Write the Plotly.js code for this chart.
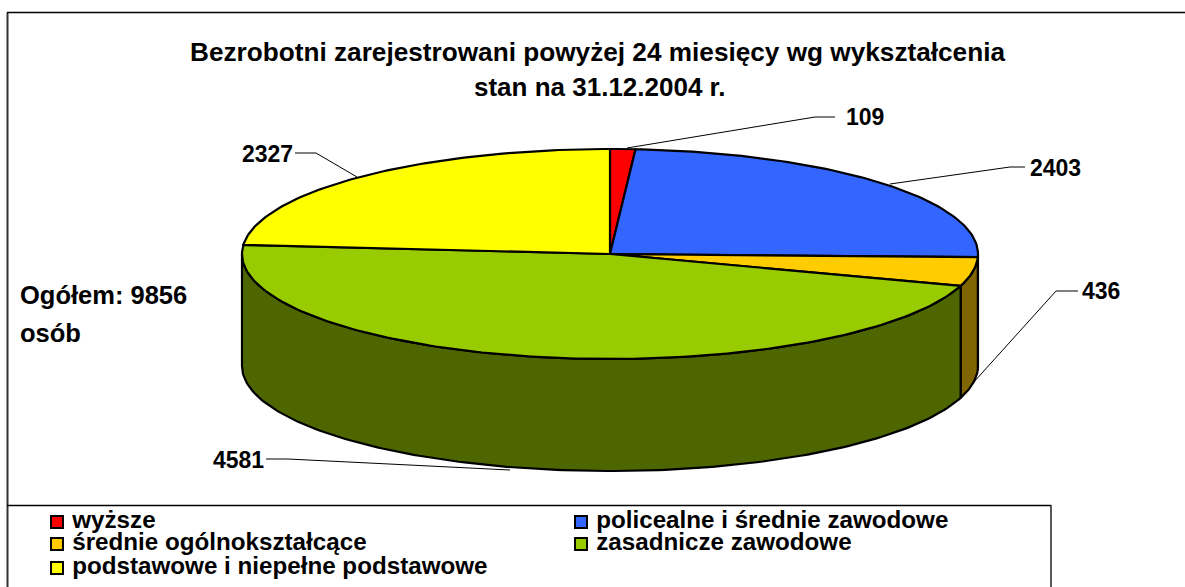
<!DOCTYPE html>
<html>
<head>
<meta charset="utf-8">
<script src="https://cdn.plot.ly/plotly-3.0.1.min.js"></script>
<style>html,body{margin:0;padding:0;background:#fff;overflow:hidden}</style>
</head>
<body>
<div id="chart" style="width:1185px;height:587px"></div>
<script>
const categories = ['wyższe','policealne i średnie zawodowe','średnie ogólnokształcące','zasadnicze zawodowe','podstawowe i niepełne podstawowe'];
const values = [109,2403,436,4581,2327];
const topColors = ['#ff0000','#3366ff','#ffcc00','#99cc00','#ffff00'];
const sideColors = ['#800000','#1a3380','#806600','#4d6600','#808000'];
const titleLine1 = 'Bezrobotni zarejestrowani powyżej 24 miesięcy wg wykształcenia';
const titleLine2 = 'stan na 31.12.2004 r.';
const noteLines = ['Ogółem: 9856','osób'];

// pie geometry (pixels of the 1185x587 page)
const cx = 610, cy = 254, rx = 368, ry = 105, depth = 112;
const total = values.reduce((a,b)=>a+b,0);
const FONT = '"Liberation Sans", Arial, sans-serif';

function pt(deg, dy){ const r = deg*Math.PI/180; return [cx+rx*Math.sin(r), cy-ry*Math.cos(r)+(dy||0)]; }
function arc(a,b,dy){ const out=[]; const n=Math.max(2,Math.ceil(Math.abs(b-a))); for(let i=0;i<=n;i++) out.push(pt(a+(b-a)*i/n,dy)); return out; }
function poly(name,points,color){
  return {type:'scatter',mode:'lines',name:name,x:points.map(p=>p[0]),y:points.map(p=>p[1]),fill:'toself',fillcolor:color,
    line:{color:'#000',width:2.2,shape:'linear'},hoverinfo:'name',showlegend:false};
}

const traces = [];
const starts = []; let acc = 0;
values.forEach(v=>{ starts.push(acc/total*360); acc+=v; });
// visible walls of the cylinder: front half only
values.forEach((v,i)=>{
  const a=Math.max(starts[i],90), b=Math.min(starts[i]+v/total*360,270);
  if(b>a) traces.push(poly(categories[i],arc(a,b,0).concat(arc(b,a,depth)).concat([pt(a,0)]),sideColors[i]));
});
// top faces
values.forEach((v,i)=>{
  const a=starts[i], b=a+v/total*360;
  traces.push(poly(categories[i],[[cx,cy]].concat(arc(a,b,0)).concat([[cx,cy]]),topColors[i]));
});

// leader lines and value labels
const leaders = [
  [[627,148],[815,117],[835,117]],
  [[890,184],[1010,167],[1025,167]],
  [[973,383],[1056,291],[1078,291]],
  [[510,470],[288,459],[266,459]],
  [[357,177],[316,153],[295,153]]
];
const labelPos = [[865,117],[1055,168],[1101,291],[238,460],[267,154]];
leaders.forEach(l=>traces.push({type:'scatter',mode:'lines',x:l.map(p=>p[0]),y:l.map(p=>p[1]),line:{color:'#000',width:1},hoverinfo:'skip',showlegend:false}));
const annotations = values.map((v,i)=>({x:labelPos[i][0],y:labelPos[i][1],xref:'x',yref:'y',text:'<b>'+v+'</b>',showarrow:false,xanchor:'center',yanchor:'middle',font:{family:FONT,size:23,color:'#000'}}));
annotations.push({x:18,y:295,xref:'x',yref:'y',text:'<b>'+noteLines[0]+'</b>',showarrow:false,xanchor:'left',yanchor:'middle',font:{family:FONT,size:25.5,color:'#000'}});
annotations.push({x:18,y:333,xref:'x',yref:'y',text:'<b>'+noteLines[1]+'</b>',showarrow:false,xanchor:'left',yanchor:'middle',font:{family:FONT,size:25.5,color:'#000'}});
annotations.push({x:600,y:87,xref:'x',yref:'y',text:'<b>'+titleLine2+'</b>',showarrow:false,xanchor:'center',yanchor:'middle',font:{family:FONT,size:26,color:'#000'}});

// legend
const legendPos = [[57,522],[581,522],[57,544],[581,544],[57,568]];
categories.forEach((c,i)=>traces.push({type:'scatter',mode:'markers+text',name:c,x:[legendPos[i][0]],y:[legendPos[i][1]],text:['<b>&nbsp;'+c+'</b>'],textposition:'middle right',
  textfont:{family:FONT,size:24.2,color:'#000'},marker:{symbol:'square',size:12,color:topColors[i],line:{color:'#000',width:2}},hoverinfo:'name',showlegend:false}));

const shapes = [
  {type:'line',xref:'x',yref:'y',x0:7.5,x1:7.5,y0:12.5,y1:587,line:{color:'#333',width:2}},
  {type:'line',xref:'x',yref:'y',x0:7,x1:1185,y0:12.5,y1:12.5,line:{color:'#000',width:1.5}},
  {type:'line',xref:'x',yref:'y',x0:7,x1:1051,y0:505.5,y1:505.5,line:{color:'#000',width:1.5}},
  {type:'line',xref:'x',yref:'y',x0:1051,x1:1051,y0:505,y1:587,line:{color:'#222',width:1.5}}
];

const layout = {
  width:1185,height:587,margin:{l:0,r:0,t:0,b:0},paper_bgcolor:'#fff',plot_bgcolor:'#fff',showlegend:false,
  title:{text:'<b>'+titleLine1+'</b>',x:597.5/1185,xanchor:'center',y:1-52/587,yanchor:'middle',font:{family:FONT,size:26.2,color:'#000'}},
  xaxis:{range:[0,1185],visible:false,fixedrange:true},
  yaxis:{range:[587,0],visible:false,fixedrange:true},
  shapes:shapes,annotations:annotations
};
Plotly.newPlot('chart',traces,layout,{displayModeBar:false,staticPlot:true});
</script>
</body>
</html>
